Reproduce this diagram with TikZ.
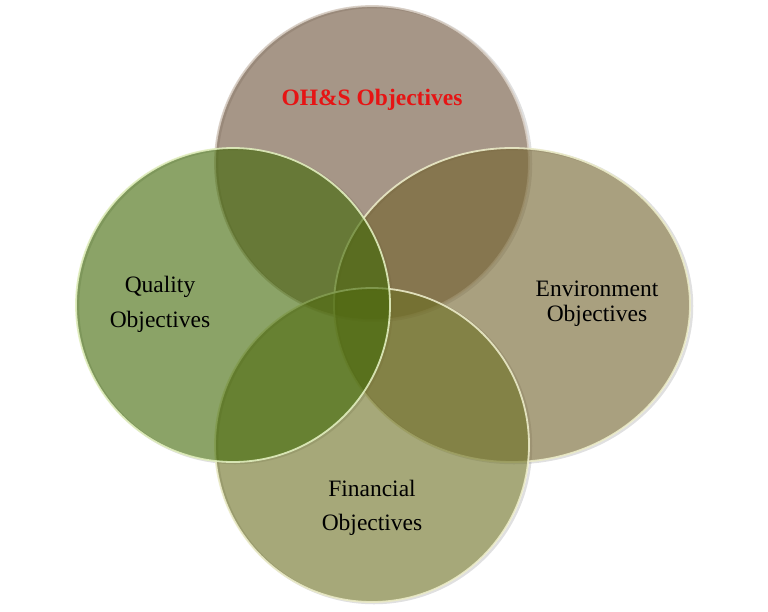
\documentclass[tikz,border=0pt]{standalone}
\usepackage{fontspec}
\setmainfont{Liberation Serif}
\definecolor{ctop}{RGB}{107,80,55}
\definecolor{cleft}{RGB}{62,103,3}
\definecolor{cright}{RGB}{113,97,43}
\definecolor{cbot}{RGB}{107,110,33}
\definecolor{rimtop}{RGB}{215,205,195}
\definecolor{rimgreen}{RGB}{225,238,190}
\definecolor{rimolive}{RGB}{235,235,200}
\definecolor{ohsred}{RGB}{230,20,20}
\begin{document}
\begin{tikzpicture}[x=1pt,y=-1pt,
  disc/.style={fill opacity=0.6, line width=1.8pt, draw opacity=0.9},
  shadow/.style={draw=black, draw opacity=0.12, line width=2.5pt},
  lbl/.style={text=black, align=center, inner sep=0pt}]
\useasboundingbox (0,0) rectangle (768,611);
\fill[white] (0,0) rectangle (768,611);
% shadows
\draw[shadow] (374,164) ellipse [x radius=157, y radius=157];
\draw[shadow] (514,306) ellipse [x radius=178, y radius=157];
\draw[shadow] (374,446) ellipse [x radius=157, y radius=157];
\draw[shadow] (235,306) ellipse [x radius=157, y radius=157];
% discs
\draw[disc, fill=ctop, draw=rimtop] (372,163) ellipse [x radius=157, y radius=157];
\draw[disc, fill=cright, draw=rimolive] (512,305) ellipse [x radius=178, y radius=157];
\draw[disc, fill=cbot, draw=rimolive] (372,445) ellipse [x radius=157, y radius=157];
\draw[disc, fill=cleft, draw=rimgreen] (233,305) ellipse [x radius=157, y radius=157];
% labels
\node[lbl, text=ohsred, font=\fontsize{23.5}{27}\selectfont\bfseries] (ohs) at (372,100) {OH\&S Objectives};
\node[lbl, font=\fontsize{23.5}{35}\selectfont] (qual) at (160,304) {Quality\\Objectives};
\node[lbl, font=\fontsize{23.5}{25}\selectfont] (env) at (597,304) {Environment\\Objectives};
\node[lbl, font=\fontsize{23.5}{34}\selectfont] (fin) at (372,508) {Financial\\Objectives};
\end{tikzpicture}
\end{document}
